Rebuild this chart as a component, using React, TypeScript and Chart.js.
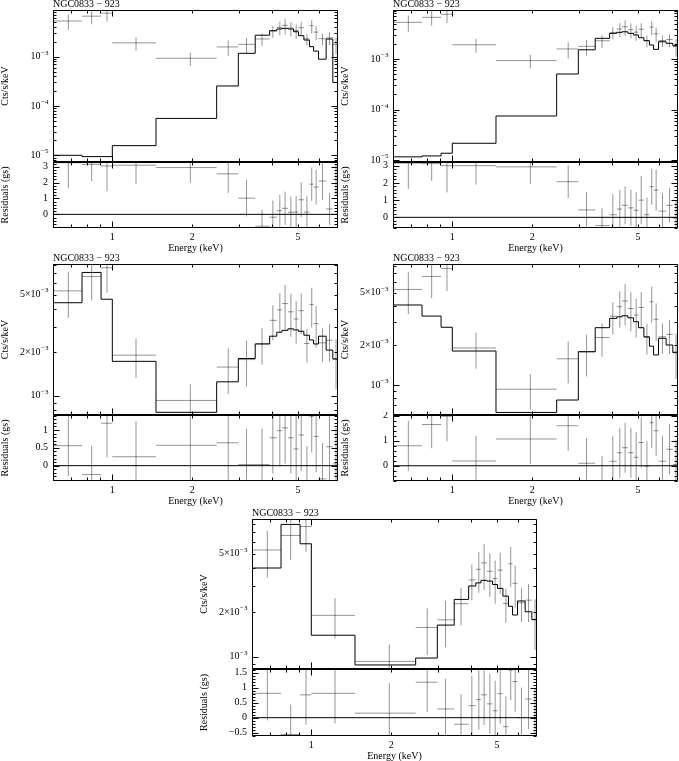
import React, { useEffect, useRef } from 'react';
import { Chart, registerables } from 'chart.js';
Chart.register(...registerables);

// ---------------- data ----------------
const TITLE = 'NGC0833 − 923';
const X_TITLE = 'Energy (keV)';
const Y_TITLE_SPEC = 'Cts/s/keV';
const Y_TITLE_RES = 'Residuals (gs)';

const binLo = [0.597, 0.769, 0.907, 1.0, 1.46, 2.47, 2.98, 3.45, 3.91, 4.16, 4.35, 4.58, 4.81, 5.02, 5.26, 5.52, 5.72, 5.97, 6.38, 6.76];
const binHi = [0.769, 0.907, 1.0, 1.46, 2.47, 2.98, 3.45, 3.91, 4.16, 4.35, 4.58, 4.81, 5.02, 5.26, 5.52, 5.72, 5.97, 6.38, 6.76, 7.14];
const binMid = [0.683, 0.836, 0.955, 1.228, 1.966, 2.73, 3.2, 3.66, 4.02, 4.27, 4.47, 4.7, 4.92, 5.14, 5.4, 5.63, 5.85, 6.18, 6.57, 6.95];

const counts = [5.3e-3, 6.65e-3, 7.65e-3, 1.91e-3, 9.3e-4, 1.58e-3, 1.78e-3, 2.29e-3, 3.32e-3, 3.92e-3, 4.33e-3, 3.8e-3, 3.39e-3, 3.87e-3, 2.3e-3, 4.27e-3, 3.15e-3, 2.32e-3, 2.42e-3, 1.78e-3];
const countsErr = [1.85e-3, 2.1e-3, 2.5e-3, 0.58e-3, 0.28e-3, 0.55e-3, 0.62e-3, 0.65e-3, 0.9e-3, 1.2e-3, 1.5e-3, 1.25e-3, 1.1e-3, 1.2e-3, 0.6e-3, 1.3e-3, 1.0e-3, 0.6e-3, 0.7e-3, 0.67e-3];

const model1 = [1.0e-5, 9.4e-6, 9.4e-6, 1.57e-5, 5.6e-5, 2.55e-4, 1.17e-3, 2.73e-3, 3.37e-3, 3.65e-3, 3.76e-3, 3.65e-3, 3.21e-3, 2.67e-3, 2.18e-3, 1.6e-3, 1.3e-3, 8.9e-4, 2.28e-3, 3.0e-4];
const model2 = [1.17e-5, 1.22e-5, 1.38e-5, 2.17e-5, 7.5e-5, 5.06e-4, 1.52e-3, 2.56e-3, 3.21e-3, 3.36e-3, 3.45e-3, 3.21e-3, 2.98e-3, 2.63e-3, 2.3e-3, 1.89e-3, 1.55e-3, 2.19e-3, 2.04e-3, 1.83e-3];
const model3 = [4.39e-3, 7.1e-3, 4.64e-3, 1.73e-3, 7.7e-4, 1.25e-3, 1.81e-3, 2.28e-3, 2.58e-3, 2.75e-3, 2.83e-3, 2.9e-3, 2.85e-3, 2.79e-3, 2.62e-3, 2.43e-3, 2.28e-3, 2.58e-3, 2.07e-3, 1.8e-3];
const model4 = [4.04e-3, 3.33e-3, 2.74e-3, 1.81e-3, 6.2e-4, 7.7e-4, 1.79e-3, 2.72e-3, 3.2e-3, 3.29e-3, 3.35e-3, 3.23e-3, 3.02e-3, 2.72e-3, 2.32e-3, 1.97e-3, 1.69e-3, 2.26e-3, 2.01e-3, 1.76e-3];
const model5 = [4.0e-3, 7.9e-3, 5.84e-3, 1.4e-3, 8.8e-4, 9.8e-4, 1.64e-3, 2.45e-3, 3.02e-3, 3.17e-3, 3.3e-3, 3.26e-3, 3.09e-3, 2.91e-3, 2.58e-3, 2.2e-3, 1.92e-3, 2.39e-3, 2.02e-3, 1.79e-3];

const resid1 = [3.25, 3.15, 3.05, 3.1, 2.95, 2.55, 1.02, -0.75, -0.18, 0.23, 0.38, 0.13, 0.14, 0.92, 0.14, 1.9, 1.72, 2.1, 0.34, 2.2];
const residErr1 = [1.6, 1.05, 1.6, 1.2, 0.95, 1.2, 1.15, 1.05, 1.05, 1.0, 1.05, 1.0, 1.0, 1.1, 1.0, 1.05, 1.1, 1.2, 1.0, 1.0];
const resid2 = [3.15, 3.12, 3.0, 3.0, 2.93, 2.07, 0.43, -0.48, 0.15, 0.48, 0.7, 0.55, 0.41, 1.0, 0.15, 1.78, 1.58, 0.36, 0.7, -0.05];
const residErr2 = [1.5, 1.0, 1.55, 1.1, 1.0, 0.95, 1.05, 1.0, 1.2, 1.1, 1.1, 1.05, 1.05, 1.4, 1.0, 1.05, 1.2, 1.05, 1.0, 1.0];
const resid3 = [0.56, -0.25, 1.19, 0.25, 0.57, 0.64, 0.03, 0.03, 0.78, 0.98, 1.06, 0.78, 0.47, 0.86, -0.45, 1.37, 0.82, -0.37, 0.53, 0.05];
const residErr3 = [0.85, 0.8, 0.95, 1.0, 1.3, 1.2, 1.0, 1.0, 1.0, 1.0, 1.0, 1.0, 1.0, 1.0, 1.0, 1.0, 1.0, 1.0, 1.0, 1.0];
const resid4 = [0.8, 1.65, 1.98, 0.19, 1.07, 1.6, 0.1, -0.62, 0.18, 0.52, 0.72, 0.52, 0.34, 0.93, -0.02, 1.72, 1.4, 0.18, 0.66, 0.05];
const residErr4 = [1.0, 0.95, 1.0, 1.0, 1.0, 1.0, 1.0, 1.0, 1.0, 1.0, 1.0, 1.0, 1.0, 1.0, 1.0, 1.0, 1.0, 1.0, 1.0, 1.0];
const resid5 = [0.81, -0.56, 0.76, 0.81, 0.15, 1.18, 0.29, -0.22, 0.4, 0.6, 0.76, 0.46, 0.23, 0.8, -0.3, 1.58, 1.2, 0.0, 0.62, 0.0];
const residErr5 = [0.9, 1.0, 1.0, 1.0, 1.0, 1.0, 1.0, 1.0, 1.0, 1.0, 1.0, 1.0, 1.0, 1.0, 1.0, 1.0, 1.0, 1.0, 1.0, 1.0];

// ---------------- ticks ----------------
const xTickValues = [1, 2, 5];
const xTickLabels = ['1', '2', '5'];
const xLongTicks = [1];
const xShortTicks = [0.6, 0.7, 0.8, 0.9, 2, 3, 4, 5, 6, 7];

const specLogLabelVals = [1e-5, 1e-4, 1e-3];
const specLogLabels = ['10^−5', '10^−4', '10^−3'];
const specLogShort = [8e-6, 9e-6, 2e-5, 3e-5, 4e-5, 5e-5, 6e-5, 7e-5, 8e-5, 9e-5, 2e-4, 3e-4, 4e-4, 5e-4, 6e-4, 7e-4, 8e-4, 9e-4, 2e-3, 3e-3, 4e-3, 5e-3, 6e-3, 7e-3, 8e-3, 9e-3];

const specMidLabelVals = [1e-3, 2e-3, 5e-3];
const specMidLabels = ['10^−3', '2×10^−3', '5×10^−3'];
const specMidLong = [1e-3];
const specMidShort = [6e-4, 7e-4, 8e-4, 9e-4, 2e-3, 3e-3, 4e-3, 5e-3, 6e-3, 7e-3, 8e-3, 9e-3];

const res12LabelVals = [0, 1, 2, 3];
const res12Labels = ['0', '1', '2', '3'];
const res12Short = [-0.8, -0.6, -0.4, -0.2, 0.2, 0.4, 0.6, 0.8, 1.2, 1.4, 1.6, 1.8, 2.2, 2.4, 2.6, 2.8, 3.2];
const res3LabelVals = [0, 0.5, 1];
const res3Labels = ['0', '0.5', '1'];
const res3Short = [-0.4, -0.3, -0.2, -0.1, 0.1, 0.2, 0.3, 0.4, 0.6, 0.7, 0.8, 0.9, 1.1, 1.2, 1.3, 1.4];
const res4LabelVals = [0, 1, 2];
const res4Labels = ['0', '1', '2'];
const res4Short = [-0.6, -0.4, -0.2, 0.2, 0.4, 0.6, 0.8, 1.2, 1.4, 1.6, 1.8];
const res5LabelVals = [-0.5, 0, 0.5, 1, 1.5];
const res5Labels = ['−0.5', '0', '0.5', '1', '1.5'];
const res5Short = [-0.6, -0.4, -0.3, -0.2, -0.1, 0.1, 0.2, 0.3, 0.4, 0.6, 0.7, 0.8, 0.9, 1.1, 1.2, 1.3, 1.4, 1.6];

// ---------------- layout ----------------
const X_MIN = 0.598;
const X_MAX = 7.07;
const PLOT_W = 285;
const FONT = '"Liberation Serif", "DejaVu Serif", serif';

type Sub = {
  kind: 'spec' | 'res';
  left: number; top: number; height: number;
  yType: 'logarithmic' | 'linear';
  yMin: number; yMax: number;
  values: number[]; errors: number[]; model?: number[];
  labelVals: number[]; labels: string[]; longTicks: number[]; shortTicks: number[];
};

const panels = [
  { left: 53, top: 10, mid: 162, bottom: 228, sMin: 7.31e-6, sMax: 8.86e-3, rMin: -0.86, rMax: 3.30, model: model1, resid: resid1, rErr: residErr1, log: true, rl: res12LabelVals, rlab: res12Labels, rs: res12Short },
  { left: 393, top: 10, mid: 162, bottom: 228, sMin: 9.26e-6, sMax: 9.28e-3, rMin: -0.62, rMax: 3.215, model: model2, resid: resid2, rErr: residErr2, log: true, rl: res12LabelVals, rlab: res12Labels, rs: res12Short },
  { left: 53, top: 264, mid: 415, bottom: 481, sMin: 7.38e-4, sMax: 8.12e-3, rMin: -0.43, rMax: 1.42, model: model3, resid: resid3, rErr: residErr3, log: false, rl: res3LabelVals, rlab: res3Labels, rs: res3Short },
  { left: 393, top: 264, mid: 415, bottom: 481, sMin: 5.93e-4, sMax: 8.26e-3, rMin: -0.61, rMax: 2.03, model: model4, resid: resid4, rErr: residErr4, log: false, rl: res4LabelVals, rlab: res4Labels, rs: res4Short },
  { left: 252, top: 519, mid: 669, bottom: 736, sMin: 8.26e-4, sMax: 8.6e-3, rMin: -0.61, rMax: 1.62, model: model5, resid: resid5, rErr: residErr5, log: false, rl: res5LabelVals, rlab: res5Labels, rs: res5Short },
];

const subs: Sub[] = [];
panels.forEach((p) => {
  subs.push({
    kind: 'spec', left: p.left, top: p.top, height: p.mid - p.top,
    yType: 'logarithmic', yMin: p.sMin, yMax: p.sMax,
    values: counts, errors: countsErr, model: p.model,
    labelVals: p.log ? specLogLabelVals : specMidLabelVals,
    labels: p.log ? specLogLabels : specMidLabels,
    longTicks: p.log ? specLogLabelVals : specMidLong,
    shortTicks: p.log ? specLogShort : specMidShort,
  });
  subs.push({
    kind: 'res', left: p.left, top: p.mid, height: p.bottom - p.mid,
    yType: 'linear', yMin: p.rMin, yMax: p.rMax,
    values: p.resid, errors: p.rErr,
    labelVals: p.rl, labels: p.rlab, longTicks: p.rl, shortTicks: p.rs,
  });
});

const PAD_L = 55;
const PAD_R = 3;
function pads(s: Sub) {
  return s.kind === 'spec' ? { top: 14, bottom: 3 } : { top: 3, bottom: 28 };
}

function drawSupLabel(ctx: CanvasRenderingContext2D, text: string, xRight: number, yMid: number) {
  const parts = text.split('^');
  const base = parts[0];
  const exp = parts[1] || '';
  ctx.font = `10px ${FONT}`;
  const wb = ctx.measureText(base).width;
  ctx.font = `7px ${FONT}`;
  const we = exp ? ctx.measureText(exp).width : 0;
  const x0 = xRight - wb - we;
  ctx.textAlign = 'left';
  ctx.textBaseline = 'middle';
  ctx.font = `10px ${FONT}`;
  ctx.fillText(base, x0, yMid);
  if (exp) {
    ctx.font = `7px ${FONT}`;
    ctx.fillText(exp, x0 + wb + 0.5, yMid - 4);
  }
}

function framePlugin(s: Sub) {
  return {
    id: 'frame',
    afterDraw(chart: any) {
      const ctx: CanvasRenderingContext2D = chart.ctx;
      const a = chart.chartArea;
      const xs = chart.scales.x;
      const ys = chart.scales.y;
      const L = a.left + 0.5, R = a.right - 0.5, T = a.top + 0.5, B = a.bottom - 0.5;
      ctx.save();
      ctx.strokeStyle = '#000';
      ctx.lineWidth = 1;
      ctx.beginPath();
      ctx.rect(L, T, R - L, B - T);
      ctx.stroke();
      const xt = (v: number, len: number) => {
        if (v < X_MIN || v > X_MAX) return;
        const px = Math.round(xs.getPixelForValue(v)) + 0.5;
        ctx.moveTo(px, B); ctx.lineTo(px, B - len);
        ctx.moveTo(px, T); ctx.lineTo(px, T + len);
      };
      const yt = (v: number, len: number) => {
        if (v < s.yMin || v > s.yMax) return;
        const py = Math.round(ys.getPixelForValue(v)) + 0.5;
        ctx.moveTo(L, py); ctx.lineTo(L + len, py);
        ctx.moveTo(R, py); ctx.lineTo(R - len, py);
      };
      ctx.beginPath();
      xLongTicks.forEach((v) => xt(v, 6));
      xShortTicks.forEach((v) => xt(v, 3));
      s.longTicks.forEach((v) => yt(v, 6));
      s.shortTicks.forEach((v) => yt(v, 3));
      ctx.stroke();

      ctx.fillStyle = '#000';
      s.labelVals.forEach((v, i) => {
        const py = ys.getPixelForValue(v);
        drawSupLabel(ctx, s.labels[i], a.left - 5, py);
      });
      ctx.save();
      ctx.font = `10px ${FONT}`;
      ctx.textAlign = 'center';
      ctx.textBaseline = 'middle';
      ctx.translate(a.left - 48, (a.top + a.bottom) / 2);
      ctx.rotate(-Math.PI / 2);
      ctx.fillText(s.kind === 'spec' ? Y_TITLE_SPEC : Y_TITLE_RES, 0, 0);
      ctx.restore();

      ctx.font = `10px ${FONT}`;
      if (s.kind === 'spec') {
        ctx.textAlign = 'left';
        ctx.textBaseline = 'alphabetic';
        ctx.fillText(TITLE, a.left, a.top - 3);
      } else {
        ctx.textAlign = 'center';
        ctx.textBaseline = 'top';
        xTickValues.forEach((v, i) => {
          ctx.fillText(xTickLabels[i], xs.getPixelForValue(v), a.bottom + 4);
        });
        ctx.textBaseline = 'middle';
        ctx.fillText(X_TITLE, (a.left + a.right) / 2, a.bottom + 20);
      }
      ctx.restore();
    },
  };
}

function buildDatasets(s: Sub) {
  const hPts: any[] = [];
  const vPts: any[] = [];
  s.values.forEach((v, i) => {
    hPts.push({ x: binLo[i], y: v }, { x: binHi[i], y: v }, { x: binHi[i], y: null });
    vPts.push({ x: binMid[i], y: v - s.errors[i] }, { x: binMid[i], y: v + s.errors[i] }, { x: binMid[i], y: null });
  });
  const grey = 'rgba(0,0,0,0.42)';
  const ds: any[] = [
    { data: hPts, borderColor: grey, borderWidth: 1, spanGaps: false, clip: 0, pointRadius: 0 },
    { data: vPts, borderColor: grey, borderWidth: 1, spanGaps: false, clip: 0, pointRadius: 0 },
  ];
  if (s.model) {
    const m = s.model;
    const mPts = m.map((v, i) => ({ x: binLo[i], y: v }));
    mPts.push({ x: binHi[m.length - 1], y: m[m.length - 1] });
    ds.push({ data: mPts, borderColor: '#000', borderWidth: 1, stepped: 'before', clip: 0, pointRadius: 0 });
  } else {
    ds.push({ data: [{ x: X_MIN, y: 0 }, { x: X_MAX, y: 0 }], borderColor: '#000', borderWidth: 1, clip: 0, pointRadius: 0 });
  }
  return ds;
}

function SubChart({ s }: { s: Sub }) {
  const ref = useRef<HTMLCanvasElement | null>(null);
  const p = pads(s);
  const w = PAD_L + PLOT_W + PAD_R;
  const h = p.top + s.height + p.bottom;
  useEffect(() => {
    if (!ref.current) return;
    const chart = new Chart(ref.current, {
      type: 'line',
      data: { datasets: buildDatasets(s) },
      options: {
        animation: false,
        responsive: false,
        devicePixelRatio: 1,
        events: [],
        layout: { padding: { left: PAD_L, right: PAD_R, top: p.top, bottom: p.bottom } },
        plugins: { legend: { display: false }, tooltip: { enabled: false }, title: { display: false } },
        elements: { point: { radius: 0 }, line: { tension: 0 } },
        scales: {
          x: { type: 'logarithmic', min: X_MIN, max: X_MAX, display: false },
          y: { type: s.yType, min: s.yMin, max: s.yMax, display: false },
        },
      } as any,
      plugins: [framePlugin(s)],
    });
    return () => chart.destroy();
  }, []);
  return (
    <canvas
      ref={ref}
      width={w}
      height={h}
      style={{ position: 'absolute', left: s.left - PAD_L, top: s.top - p.top, width: w, height: h }}
    />
  );
}

export default function App() {
  return (
    <div style={{ position: 'absolute', left: 0, top: 0, width: 679, height: 761, overflow: 'hidden', background: '#fff' }}>
      {subs.map((s, i) => (
        <SubChart key={i} s={s} />
      ))}
    </div>
  );
}
